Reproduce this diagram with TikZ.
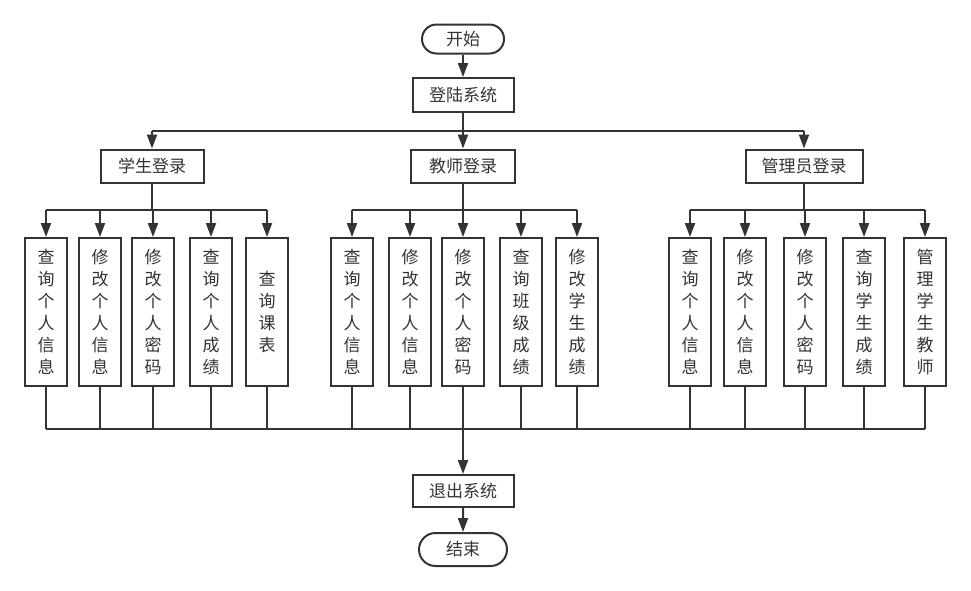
\documentclass[tikz,border=0pt]{standalone}
\usepackage{fontspec}
\newfontfamily\cjk{Noto Sans CJK SC}
\usetikzlibrary{arrows.meta, shapes.misc}
\definecolor{ink}{HTML}{333333}

\begin{document}
\begin{tikzpicture}[x=1pt, y=-1pt, line width=2pt, color=ink,
        every node/.style={font=\cjk\fontsize{17}{22}\selectfont},
        box/.style={draw, rectangle, minimum width=#1, minimum height=33pt, inner sep=0pt},
        term/.style={draw, rounded rectangle, minimum width=#1, minimum height=29pt, inner sep=0pt},
        leaf/.style={draw, rectangle, minimum width=42pt, minimum height=148pt, inner sep=0pt, align=center},
        arr/.style={-{Triangle[length=14pt, width=10pt]}}]
        \useasboundingbox (0,0) rectangle (971,590);

        % Start and login
        \node[term=82pt] (start) at (463,39) {开始};
        \node[box=101pt, minimum height=34pt] (login) at (463,95) {登陆系统};
        \draw[arr] (start) -- (login);

        % Three roles
        \node[box=103pt] (stu) at (152,166) {学生登录};
        \node[box=104pt] (tea) at (463,166) {教师登录};
        \node[box=117pt] (adm) at (804,166) {管理员登录};
        \coordinate (top) at (463,131);
        \draw (login) -- (top);
        \draw (stu |- top) -- (adm |- top);
        \foreach \r in {stu, tea, adm}
            \draw[arr] (\r |- top) -- (\r);

        % Functions of each role
        \foreach \n/\x/\t in {s1/46/{查\\询\\个\\人\\信\\息}, s2/100/{修\\改\\个\\人\\信\\息},
                s3/153/{修\\改\\个\\人\\密\\码}, s4/211/{查\\询\\个\\人\\成\\绩}, s5/267/{查\\询\\课\\表}}
            \node[leaf] (\n) at (\x,312) {\t};
        \foreach \n/\x/\t in {t1/352/{查\\询\\个\\人\\信\\息}, t2/410/{修\\改\\个\\人\\信\\息},
                t3/463/{修\\改\\个\\人\\密\\码}, t4/521/{查\\询\\班\\级\\成\\绩}, t5/577/{修\\改\\学\\生\\成\\绩}}
            \node[leaf] (\n) at (\x,312) {\t};
        \foreach \n/\x/\t in {a1/690/{查\\询\\个\\人\\信\\息}, a2/745/{修\\改\\个\\人\\信\\息},
                a3/805/{修\\改\\个\\人\\密\\码}, a4/864/{查\\询\\学\\生\\成\\绩}, a5/925/{管\\理\\学\\生\\教\\师}}
            \node[leaf] (\n) at (\x,312) {\t};

        % Branches to the functions
        \coordinate (mid) at (0,210);
        \foreach \r/\g in {stu/s, tea/t, adm/a} {
            \draw (\r) -- (\r |- mid);
            \draw (\g1 |- mid) -- (\g5 |- mid);
            \foreach \i in {1,...,5}
                \draw[arr] (\g\i |- mid) -- (\g\i);
        }

        % Join and exit
        \node[box=101pt, minimum height=32pt] (exit) at (463,491) {退出系统};
        \node[term=88pt, minimum height=33pt] (end) at (463,549.5) {结束};
        \coordinate (bot) at (0,429);
        \foreach \g in {s, t, a}
            \foreach \i in {1,...,5}
                \draw (\g\i) -- (\g\i |- bot);
        \draw (s1 |- bot) -- (a5 |- bot);
        \draw[arr] (exit |- bot) -- (exit);
        \draw[arr] (exit) -- (end);
\end{tikzpicture}
\end{document}
